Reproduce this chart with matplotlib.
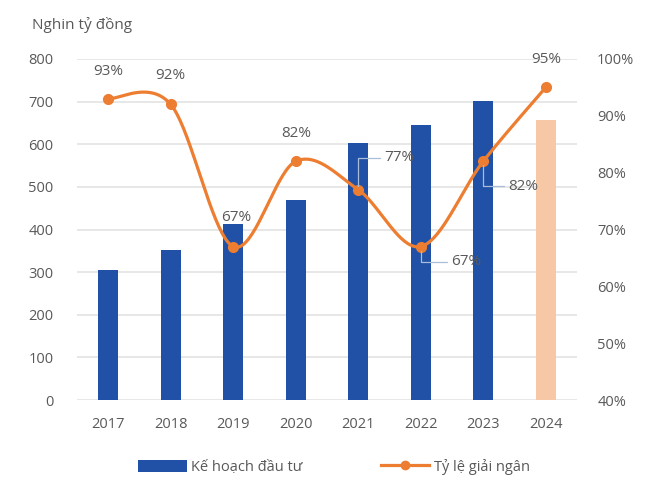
import numpy as np
import matplotlib
matplotlib.use("Agg")
import matplotlib.pyplot as plt
from matplotlib.lines import Line2D
from matplotlib.patches import Patch

years = ["2017", "2018", "2019", "2020", "2021", "2022", "2023", "2024"]
plan = [304, 351, 412, 470, 603, 646, 702, 657]
rate = [93, 92, 67, 82, 77, 67, 82, 95]
rate_labels = ["93%", "92%", "67%", "82%", "77%", "67%", "82%", "95%"]
left_ticks = [0, 100, 200, 300, 400, 500, 600, 700, 800]
right_ticks = [40, 50, 60, 70, 80, 90, 100]

plt.rcParams['font.family'] = ['Open Sans', 'DejaVu Sans']
grey = "#595959"
blue = "#2051A6"
peach = "#F7C8A5"
orange = "#ED7D31"
leader = "#A9BCD8"

fig = plt.figure(figsize=(6.55, 4.79), dpi=100)
ax = fig.add_axes([77/655, (479-400)/479, 500/655, 341/479])
ax2 = ax.twinx()

x = np.arange(len(years))
colors = [blue]*(len(years)-1) + [peach]
ax.bar(x, plan, width=0.32, color=colors, zorder=2)
ax.set_ylim(0, 800)
ax.set_yticks(left_ticks)
ax.set_xlim(-0.5, 7.5)
ax.set_xticks(x)
ax.set_xticklabels(years)
ax.grid(axis='y', color="#E3E3E3", linewidth=1.2, zorder=0)
ax.set_axisbelow(True)
for a in (ax, ax2):
    for s in a.spines.values():
        s.set_visible(False)
ax.tick_params(axis='both', length=0, colors=grey, labelsize=10.5)
ax.tick_params(axis='x', pad=12)
ax.tick_params(axis='y', pad=17)

ax2.set_ylim(40, 100)
ax2.set_yticks(right_ticks)
ax2.set_yticklabels([f"{t}%" for t in right_ticks])
ax2.tick_params(axis='y', length=0, colors=grey, labelsize=10.5, pad=14.5)

# smoothed line (Bezier through points, Excel-like smoothing)
px = x.astype(float)
py = np.array(rate, dtype=float)
xs, ys = [], []
n = len(px)
for i in range(n-1):
    p0 = np.array([px[max(i-1, 0)], py[max(i-1, 0)]])
    p1 = np.array([px[i], py[i]])
    p2 = np.array([px[i+1], py[i+1]])
    p3 = np.array([px[min(i+2, n-1)], py[min(i+2, n-1)]])
    c1 = p1 + (p2 - p0) / 6
    c2 = p2 - (p3 - p1) / 6
    t = np.linspace(0, 1, 40)[:, None]
    pts = (1-t)**3*p1 + 3*(1-t)**2*t*c1 + 3*(1-t)*t**2*c2 + t**3*p2
    xs.extend(pts[:, 0]); ys.extend(pts[:, 1])
ax2.plot(xs, ys, color=orange, linewidth=2.3, zorder=3)
ax2.plot(px, py, 'o', color=orange, markersize=7, zorder=4)

fs = 11
above = {0: (0, 20), 1: (0, 21), 2: (2, 21), 3: (0, 20), 7: (0, 20)}
for i, off in above.items():
    ax2.annotate(rate_labels[i], (i, rate[i]), xytext=off, textcoords='offset points',
                 ha='center', va='center', color=grey, fontsize=fs, zorder=5)
side = {4: (19, 23), 5: (22, -11), 6: (18, -18)}
for i, off in side.items():
    ax2.annotate(rate_labels[i], (i, rate[i]), xytext=off, textcoords='offset points',
                 ha='left', va='center', color=grey, fontsize=fs, zorder=5,
                 arrowprops=dict(arrowstyle='-', color=leader, lw=0.9, shrinkA=1, shrinkB=3,
                                 connectionstyle="angle,angleA=0,angleB=90,rad=0"))

fig.text(32/655, 1 - 25/479, "Nghin tỷ đồng", color=grey, fontsize=11, va='center', ha='left')

handles = [Patch(facecolor=blue, label="Kế hoạch đầu tư"),
           Line2D([0], [0], color=orange, lw=2.3, marker='o', markersize=6, label="Tỷ lệ giải ngân")]
fig.legend(handles=handles, loc='center', bbox_to_anchor=(334/655, 1 - 467/479), ncol=2, frameon=False,
           fontsize=10.5, labelcolor=grey, handlelength=3.3, handleheight=0.9, columnspacing=5.4,
           handletextpad=0.3)

fig.savefig("out.png", dpi=100)
